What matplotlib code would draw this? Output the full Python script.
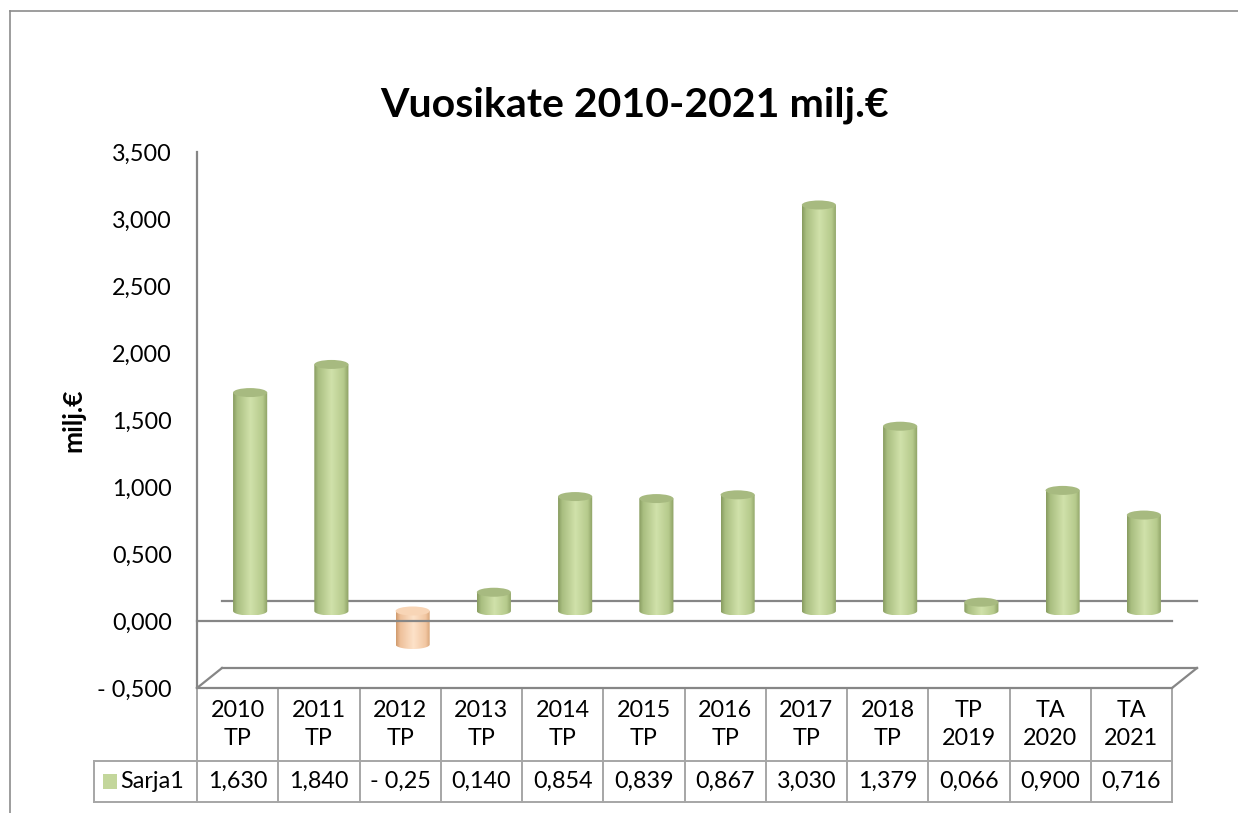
import numpy as np
import matplotlib
matplotlib.use("Agg")
import matplotlib.pyplot as plt
from matplotlib.patches import Ellipse, PathPatch, Rectangle
from matplotlib.path import Path
from matplotlib.colors import LinearSegmentedColormap
from matplotlib.lines import Line2D

# ---------------- data ----------------
categories = ["2010\nTP", "2011\nTP", "2012\nTP", "2013\nTP", "2014\nTP", "2015\nTP",
              "2016\nTP", "2017\nTP", "2018\nTP", "TP\n2019", "TA\n2020", "TA\n2021"]
values = [1.630, 1.840, -0.25, 0.140, 0.854, 0.839, 0.867, 3.030, 1.379, 0.066, 0.900, 0.716]
value_labels = ["1,630", "1,840", "- 0,25", "0,140", "0,854", "0,839", "0,867",
                "3,030", "1,379", "0,066", "0,900", "0,716"]
series_name = "Sarja1"
yticks = [-0.5, 0.0, 0.5, 1.0, 1.5, 2.0, 2.5, 3.0, 3.5]
ytick_labels = ["- 0,500", "0,000", "0,500", "1,000", "1,500", "2,000", "2,500", "3,000", "3,500"]
title = "Vuosikate 2010-2021 milj.€"
ylabel = "milj.€"

FONT = ["Lato", "DejaVu Sans"]
plt.rcParams["font.family"] = FONT

W, H = 1238, 813
fig = plt.figure(figsize=(W / 100, H / 100), dpi=100)
fig.patch.set_facecolor("white")

# plot area (pixels)
L, R, T, B = 197, 1200, 152, 688
colw = 81.25
ax = fig.add_axes([L / W, (H - B) / H, (R - L) / W, (B - T) / H])
ax.set_xlim(-0.5, -0.5 + (R - L) / colw)
ax.set_ylim(-0.5, 3.5)
for s in ax.spines.values():
    s.set_visible(False)
ax.set_facecolor("none")
yu = 4.0 / (B - T)          # data units per pixel (y)
dx = 25 / colw              # depth offset x
dy = 20 * yu                # depth offset y

ax.set_xticks([])
ax.set_yticks(yticks, ytick_labels)
ax.tick_params(axis="y", length=0, pad=18, labelsize=16.8, labelcolor="#000000")

lc = "#868686"
lw = 1.6
n = len(values)
# left axis line (continues into table)
ax.add_line(Line2D([-0.5, -0.5], [3.5, -0.5], color=lc, lw=lw, zorder=5, clip_on=False))
# back lines (zero and floor)
ax.add_line(Line2D([-0.5 + dx, n - 0.5 + dx], [dy, dy], color=lc, lw=lw, zorder=2, clip_on=False))
ax.add_line(Line2D([-0.5 + dx, n - 0.5 + dx], [-0.5 + dy, -0.5 + dy], color=lc, lw=lw, zorder=2, clip_on=False))
ax.add_line(Line2D([-0.5, -0.5 + dx], [-0.5, -0.5 + dy], color=lc, lw=lw, zorder=2, clip_on=False))
ax.add_line(Line2D([n - 0.5, n - 0.5 + dx], [-0.5, -0.5 + dy], color=lc, lw=lw, zorder=2, clip_on=False))
# front lines
ax.add_line(Line2D([-0.5, n - 0.5], [0, 0], color=lc, lw=lw, zorder=6, clip_on=False))
ax.add_line(Line2D([-0.5, n - 0.5], [-0.5, -0.5], color=lc, lw=lw, zorder=6, clip_on=False))

# cylinders
green = LinearSegmentedColormap.from_list(
    "g", [(0, "#879b5f"), (0.12, "#a9be80"), (0.5, "#d0e1aa"), (0.85, "#b6ca8c"), (1, "#8a9e62")])
peach = LinearSegmentedColormap.from_list(
    "p", [(0, "#cf996b"), (0.12, "#eec09a"), (0.5, "#fde2c9"), (0.85, "#f2c7a2"), (1, "#d29d70")])
grad = np.linspace(0, 1, 256).reshape(1, -1)
bw = 0.42
eh = 9 * yu
for i, v in enumerate(values):
    cx = i + dx / 2
    base = dy / 2
    top = v + dy / 2
    lo, hi = min(base, top), max(base, top)
    cmap = green if v >= 0 else peach
    cap = "#a7ba80" if v >= 0 else "#f8d5b6"
    x0, x1 = cx - bw / 2, cx + bw / 2
    t = np.linspace(np.pi, 2 * np.pi, 40)
    verts = [(x0, hi), (x0, lo)] + [(cx + bw / 2 * np.cos(a), lo + eh / 2 * np.sin(a)) for a in t] + [(x1, hi), (x0, hi)]
    codes = [Path.MOVETO] + [Path.LINETO] * (len(verts) - 2) + [Path.CLOSEPOLY]
    clip = PathPatch(Path(verts, codes), transform=ax.transData, facecolor="none", edgecolor="none")
    im = ax.imshow(grad, cmap=cmap, extent=[x0, x1, lo - eh / 2, hi], aspect="auto",
                   interpolation="bilinear", zorder=3)
    im.set_clip_path(clip)
    ax.add_patch(Ellipse((cx, hi), bw, eh, facecolor=cap, edgecolor="none", zorder=4))

ax.set_xlim(-0.5, -0.5 + (R - L) / colw)
ax.set_ylim(-0.5, 3.5)

# data table
tc = "#a6a6a6"
y_hdr_bot = -0.5 - (761 - B) * yu
y_val_bot = -0.5 - (802 - B) * yu
x_leg = -0.5 - (L - 94) / colw
for k in range(n + 1):
    ax.add_line(Line2D([k - 0.5, k - 0.5], [-0.5, y_val_bot], color=tc, lw=1.4, zorder=5, clip_on=False))
ax.add_line(Line2D([x_leg, n - 0.5], [y_hdr_bot, y_hdr_bot], color=tc, lw=1.4, zorder=5, clip_on=False))
ax.add_line(Line2D([x_leg, n - 0.5], [y_val_bot, y_val_bot], color=tc, lw=1.4, zorder=5, clip_on=False))
ax.add_line(Line2D([x_leg, x_leg], [y_hdr_bot, y_val_bot], color=tc, lw=1.4, zorder=5, clip_on=False))
for i, (c, vl) in enumerate(zip(categories, value_labels)):
    ax.text(i, (-0.5 + y_hdr_bot) / 2, c, ha="center", va="center", fontsize=16.8,
            linespacing=1.45, clip_on=False)
    ax.text(i, (y_hdr_bot + y_val_bot) / 2, vl, ha="center", va="center", fontsize=16.8, clip_on=False)
# legend key in table
ym = (y_hdr_bot + y_val_bot) / 2
ax.add_patch(Rectangle((x_leg + 9 / colw, ym - 7.5 * yu), 14 / colw, 15 * yu,
                       facecolor="#c3d69b", edgecolor="none", clip_on=False, zorder=5))
ax.text(x_leg + 26 / colw, ym, series_name, ha="left", va="center", fontsize=16.8, clip_on=False)

# title and axis label
fig.text(635 / W, 1 - 105 / H, title, ha="center", va="center", fontsize=29.5, fontweight="bold")
fig.text(73 / W, 1 - 420 / H, ylabel, ha="center", va="center", fontsize=19,
         fontweight="bold", rotation=90)

# outer chart border
fig.add_artist(Line2D([9.5 / W, 9.5 / W], [0, 1 - 11 / H], color="#8c8c8c", lw=1.2,
                      transform=fig.transFigure))
fig.add_artist(Line2D([9.5 / W, 1], [1 - 11 / H, 1 - 11 / H], color="#8c8c8c", lw=1.2,
                      transform=fig.transFigure))

fig.savefig("out.png", dpi=100)
